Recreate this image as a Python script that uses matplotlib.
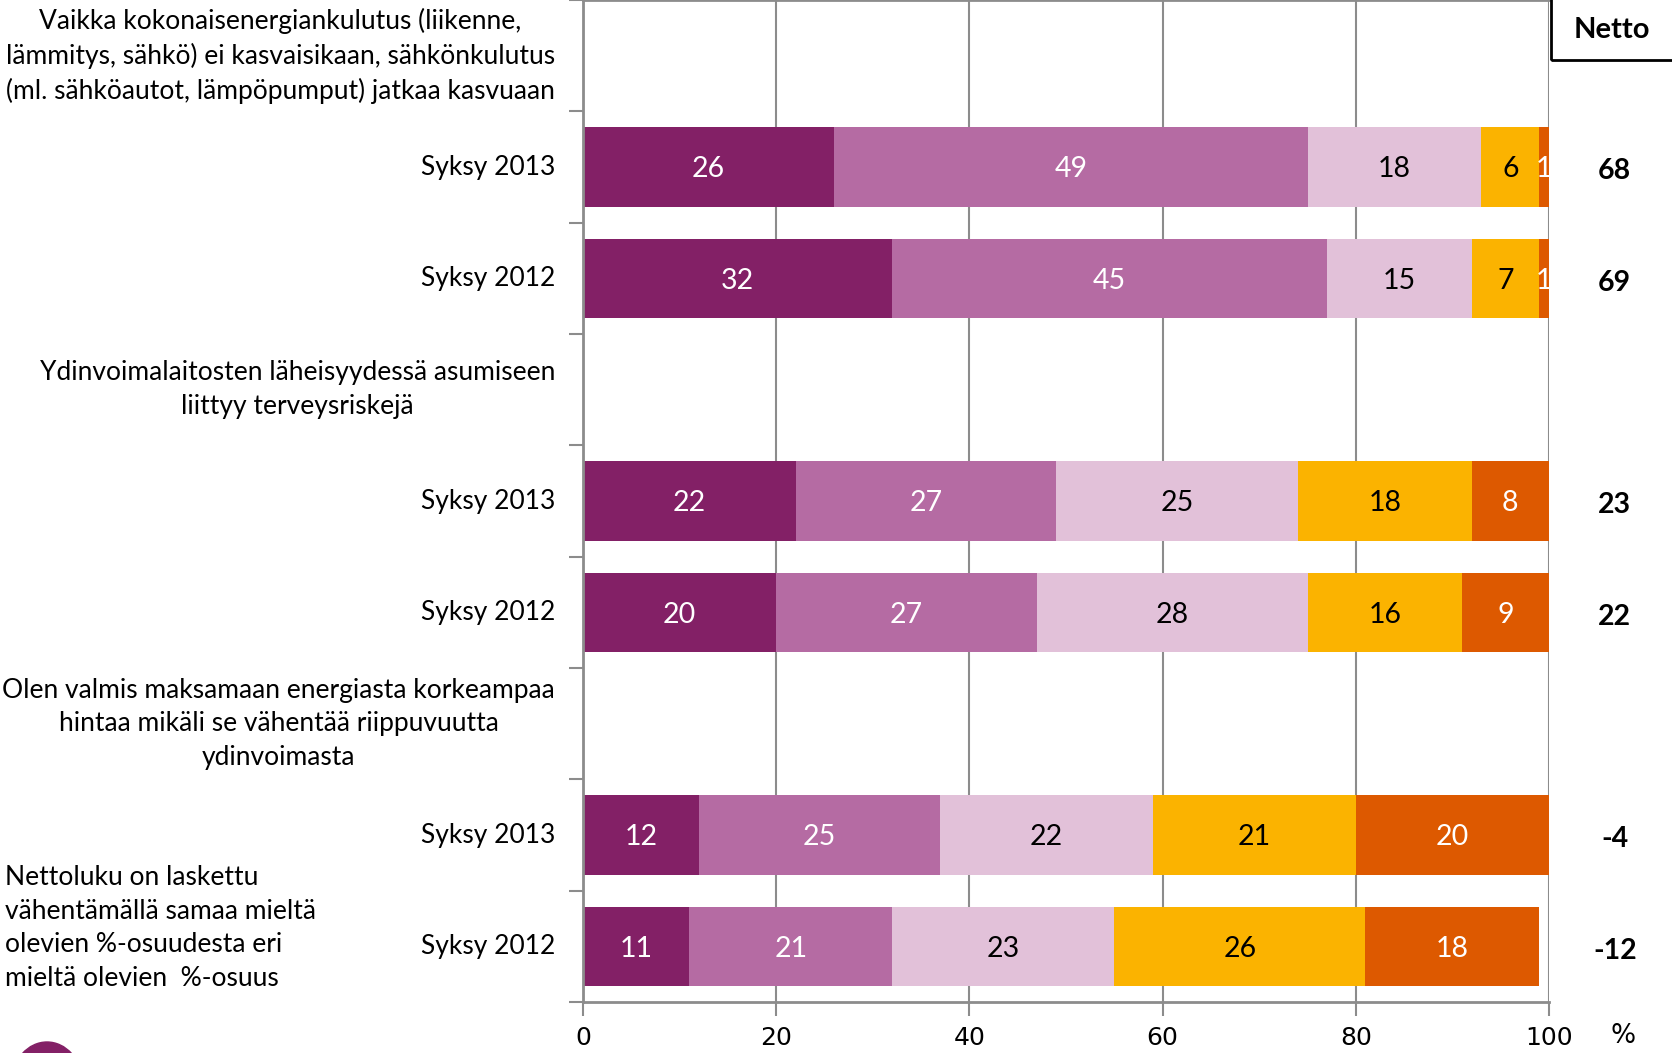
import matplotlib
matplotlib.use("Agg")
import matplotlib.pyplot as plt
from matplotlib.patches import Ellipse, Rectangle

plt.rcParams['font.family'] = ['Lato', 'DejaVu Sans']

# statements and the survey rounds under each
headers = [
    "Vaikka kokonaisenergiankulutus (liikenne,\nlämmitys, sähkö) ei kasvaisikaan, sähkönkulutus\n(ml. sähköautot, lämpöpumput) jatkaa kasvuaan",
    "Ydinvoimalaitosten läheisyydessä asumiseen\nliittyy terveysriskejä",
    "Olen valmis maksamaan energiasta korkeampaa\nhintaa mikäli se vähentää riippuvuutta\nydinvoimasta",
]
rounds = ["Syksy 2013", "Syksy 2012"]

# answer shares per bar, top to bottom
fully_agree = [26, 32, 22, 20, 12, 11]
somewhat_agree = [49, 45, 27, 27, 25, 21]
neutral = [18, 15, 25, 28, 22, 23]
somewhat_disagree = [6, 7, 18, 16, 21, 26]
fully_disagree = [1, 1, 8, 9, 20, 18]
netto = [68, 69, 23, 22, -4, -12]

series = [fully_agree, somewhat_agree, neutral, somewhat_disagree, fully_disagree]
colors = ["#832066", "#B56BA3", "#E2C1D9", "#FBB300", "#DD5900"]
text_colors = ["white", "white", "black", "black", "white"]

xticks = [0, 20, 40, 60, 80, 100]

fig = plt.figure(figsize=(16.72, 10.53), dpi=100)
ax = fig.add_axes([583 / 1672, 1 - 1002 / 1053, (1549 - 583) / 1672, 1002 / 1053])

# each statement takes three rows: header row + two survey rows
bar_rows = []
for g in range(len(headers)):
    bar_rows += [g * 3 + 1.5, g * 3 + 2.5]

left = [0] * len(bar_rows)
for vals, col, tcol in zip(series, colors, text_colors):
    ax.barh(bar_rows, vals, left=left, height=0.71, color=col, edgecolor="none", zorder=2)
    for y, l, v in zip(bar_rows, left, vals):
        ax.text(l + v / 2, y + 0.02, str(v), ha="center", va="center",
                color=tcol, fontsize=20.5, zorder=3)
    left = [a + b for a, b in zip(left, vals)]

ax.set_xlim(0, 100)
ax.set_ylim(9, 0)
ax.set_xticks(xticks)
ax.set_xticklabels([str(t) for t in xticks], family=['Liberation Sans Narrow', 'DejaVu Sans'],
                   fontsize=18)
ax.tick_params(axis="x", length=10, width=1.5, color="#8c8c8c", pad=7)
ax.set_yticks(range(10))
ax.set_yticklabels([])
ax.tick_params(axis="y", length=10, width=1.5, color="#8c8c8c", direction="out")
ax.grid(axis="x", color="#8c8c8c", linewidth=1.5, zorder=0)
ax.set_axisbelow(True)
for side in ["left", "bottom", "top"]:
    ax.spines[side].set_color("#8c8c8c")
    ax.spines[side].set_linewidth(2)
ax.spines["right"].set_visible(False)

# row labels left of the axis
for g, h in enumerate(headers):
    ax.text(-2.9, g * 3 + 0.5, h, ha="right", va="center", multialignment="center",
            fontsize=19, linespacing=1.42)
    for k, r in enumerate(rounds):
        ax.text(-2.9, g * 3 + 1.5 + k, r, ha="right", va="center", fontsize=19)

# net figures on the right
for y, n in zip(bar_rows, netto):
    ax.text(106.8, y + 0.04, str(n), ha="center", va="center",
            fontsize=20.5, fontweight="bold", clip_on=False)

fig.text(1623 / 1672, 1 - 1036 / 1053, "%", ha="center", va="center", fontsize=19,
         family=['Liberation Sans Narrow', 'DejaVu Sans'])

# Netto header box
fig.patches.append(Rectangle((1551 / 1672, 1 - 60 / 1053), 0.2, 0.2,
                             transform=fig.transFigure, fill=False,
                             edgecolor="black", linewidth=2))
fig.text(1612 / 1672, 1 - 30 / 1053, "Netto", ha="center", va="center",
         fontsize=21, fontweight="bold")

fig.text(5 / 1672, 1 - 928 / 1053,
         "Nettoluku on laskettu\nvähentämällä samaa mieltä\nolevien %-osuudesta eri\nmieltä olevien  %-osuus",
         ha="left", va="center", fontsize=19, linespacing=1.42)

# corner of the logo
fig.patches.append(Ellipse((47 / 1672, 1 - 1082 / 1053), 70 / 1672, 80 / 1053,
                           transform=fig.transFigure, color="#832066"))

fig.savefig("out.png", dpi=100)
